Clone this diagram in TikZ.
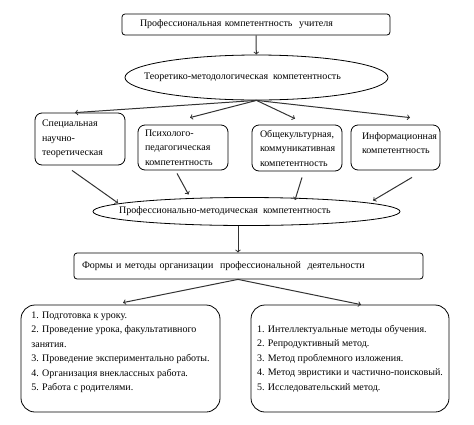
\documentclass[tikz,border=0pt]{standalone}
\usepackage{fontspec}
\setmainfont{Liberation Serif}
\usetikzlibrary{arrows,shapes,calc}

\begin{document}
\begin{tikzpicture}[x=1pt,y=-1pt,font=\fontsize{10}{14.5}\selectfont]
        \tikzstyle{rect}=[draw, rectangle, rounded corners=3pt, line width=0.8pt, align=left, inner ysep=0pt]
        \tikzstyle{rect_c}=[rect, rounded corners=7pt]
        \tikzstyle{rect_b}=[rect, rounded corners=14pt]
	\tikzstyle{circ}=[draw, ellipse, line width=0.8pt, inner sep=0pt]
	\tikzstyle{arr}=[->, line width=1pt, black!80]

	\useasboundingbox (0,0) rectangle (474,424);

        \node[rect, minimum width=268, minimum height=21, text width=232, inner xsep=18] (prof) at (256,24.5)
{Профессиональная компетентность\ \ учителя};
	\node[circ, minimum width=263, minimum height=45,
	  label={[xshift=-14pt]center:Теоретико-методологическая\ \ компетентность}] (theor) at (256.5,77.5) {};

	\node[rect_c, minimum width=90, minimum height=52, text width=76, inner xsep=7] (spec) at (80,139)
{Специальная\\научно-\\теоретическая};
	\node[rect_c, minimum width=90, minimum height=45, text width=76, inner xsep=7] (psych) at (183,147.5)
{Психолого-\\педагогическая\\компетентность};
	\node[rect_c, minimum width=90, minimum height=46, text width=74, inner xsep=8] (cult) at (297,148)
{Общекультурная,\\коммуникативная\\компетентность};
	\node[rect_c, minimum width=89, minimum height=45, text width=67, inner xsep=11] (info) at (395.5,147.5)
{Информационная\\компетентность\\[-6pt]\mbox{}};

	\node[circ, minimum width=307, minimum height=28,
	  label={[xshift=-21.5pt]center:Профессионально-методическая\ \ компетентность}] (metod) at (246.5,211.5) {};

	\node[rect, minimum width=349, minimum height=26, text width=333, inner xsep=8] (forms) at (248.5,266)
{Формы и методы организации\ \ профессиональной\ \ деятельности};

	\node[rect_b, minimum width=199, minimum height=107] (work) at (120.5,358.5)
{1. Подготовка к уроку.\\2. Проведение урока, факультативного\\занятия.\\3. Проведение экспериментально работы.\\4. Организация внеклассных работа.\\5. Работа с родителями.\\\mbox{}};
	\node[rect_b, minimum width=198, minimum height=107] (meth) at (350,358.5)
{1. Интеллектуальные методы обучения.\\2. Репродуктивный метод.\\3. Метод проблемного изложения.\\4. Метод эвристики и частично-поисковый.\\5. Исследовательский метод.};

	\draw[arr] (prof) -- (theor);
	\draw[arr] (theor.south) -- ([xshift=-5pt]spec.north);
	\draw[arr] (theor.south) -- ([xshift=7pt,yshift=7pt]psych.north);
	\draw[arr] (theor.south) -- ([xshift=-2pt,yshift=6pt]cult.north);
	\draw[arr] (theor.south) -- ([xshift=14.5pt,yshift=7pt]info.north);
	\draw[arr] ([xshift=-8pt,yshift=-5pt]spec.south) -- ($(metod.center)+(-128.5,-8.5)$);
	\draw[arr] ([xshift=-6pt,yshift=-3pt]psych.south) -- ($(metod.center)+(-58,-17)$);
	\draw[arr] ([xshift=5pt,yshift=-6pt]cult.south) -- ($(metod.center)+(48.5,-11.5)$);
	\draw[arr] ([xshift=16.5pt,yshift=-7pt]info.south) -- ($(metod.center)+(126.5,-11)$);
	\draw[arr] ([xshift=-8.5pt]metod.south) -- ([xshift=-10.5pt]forms.north);
	\draw[arr] ([xshift=-10.5pt]forms.south) -- ([xshift=2.5pt,yshift=2pt]work.north);
	\draw[arr] ([xshift=-10.5pt]forms.south) -- ([xshift=11pt]meth.north);
    \end{tikzpicture}
\end{document}
